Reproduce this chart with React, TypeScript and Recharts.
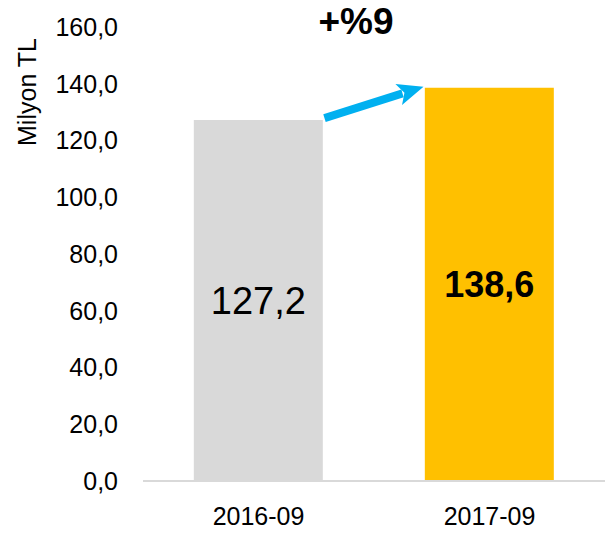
import React from 'react';
import { BarChart, Bar, XAxis, YAxis, Cell, LabelList, ReferenceLine } from 'recharts';

const categories = ['2016-09', '2017-09'];
const values = [127.2, 138.6];
const barColors = ['#D9D9D9', '#FFC000'];
const labelWeights = ['normal', 'bold'];
const yTicks = [0, 20, 40, 60, 80, 100, 120, 140, 160];
const growthLabel = '+%9';
const yAxisTitle = 'Milyon TL';

const data = categories.map((c, i) => ({ name: c, value: values[i] }));

const FONT = '"Liberation Sans", Arial, sans-serif';
const fmt = (v: number) => v.toFixed(1).replace('.', ',');

const BarValueLabel = (props: any) => {
  const { x, y, width, height, value, index } = props;
  const bold = labelWeights[index] === 'bold';
  return (
    <text
      x={x + width / 2}
      y={y + height / 2}
      textAnchor="middle"
      dominantBaseline="central"
      fontFamily={FONT}
      fontSize={bold ? 36 : 38}
      fontWeight={bold ? 'bold' : 'normal'}
      fill="#000"
    >
      {fmt(value)}
    </text>
  );
};

const ArrowShape = (props: any) => {
  const { x1, y1, x2, y2 } = props;
  if (x1 == null) return null;
  const half = 66;
  const sx = x1 + half;
  const sy = y1 - 2;
  const ex = x2 - half;
  const ey = y2 - 1;
  const ang = Math.atan2(ey - sy, ex - sx);
  const headLen = 26;
  const headW = 11;
  const bx = ex - headLen * Math.cos(ang);
  const by = ey - headLen * Math.sin(ang);
  const px = -Math.sin(ang);
  const py = Math.cos(ang);
  return (
    <g>
      <line x1={sx} y1={sy} x2={bx + 4 * Math.cos(ang)} y2={by + 4 * Math.sin(ang)} stroke="#00B0F0" strokeWidth={8} />
      <polygon
        points={`${ex},${ey} ${bx + px * headW},${by + py * headW} ${bx + 6 * Math.cos(ang)},${by + 6 * Math.sin(ang)} ${bx - px * headW},${by - py * headW}`}
        fill="#00B0F0"
      />
      <text x={356} y={34} textAnchor="middle" fontFamily={FONT} fontSize={37} fontWeight="bold" fill="#000">
        {growthLabel}
      </text>
    </g>
  );
};

const YTitle = (props: any) => {
  const { viewBox } = props;
  const x = 36;
  const y = viewBox.y + 65;
  return (
    <text
      x={x}
      y={y}
      transform={`rotate(-90, ${x}, ${y})`}
      textAnchor="middle"
      fontFamily={FONT}
      fontSize={25}
      fill="#000"
    >
      {yAxisTitle}
    </text>
  );
};

export default function App() {
  return (
    <div style={{ position: 'absolute', left: 0, top: 0, width: 605, height: 533 }}>
      <BarChart
        width={605}
        height={533}
        data={data}
        margin={{ top: 27, right: 0, bottom: 0, left: 0 }}
        barCategoryGap="22%"
      >
        <XAxis
          dataKey="name"
          height={52}
          axisLine={{ stroke: '#D9D9D9', strokeWidth: 2 }}
          tickLine={false}
          tickMargin={20}
          tick={{ fill: '#000', fontSize: 25, fontFamily: FONT }}
        />
        <YAxis
          width={143}
          domain={[0, 160]}
          ticks={yTicks}
          axisLine={false}
          tickLine={false}
          tickMargin={19}
          tickFormatter={fmt}
          tick={{ fill: '#000', fontSize: 25, fontFamily: FONT }}
          label={<YTitle />}
        />
        <Bar dataKey="value" isAnimationActive={false}>
          {data.map((d, i) => (
            <Cell key={d.name} fill={barColors[i]} />
          ))}
          <LabelList dataKey="value" content={<BarValueLabel />} />
        </Bar>
        <ReferenceLine
          segment={[
            { x: categories[0], y: values[0] },
            { x: categories[1], y: values[1] },
          ]}
          ifOverflow="visible"
          shape={(p: any) => <ArrowShape {...p} />}
        />
      </BarChart>
    </div>
  );
}
